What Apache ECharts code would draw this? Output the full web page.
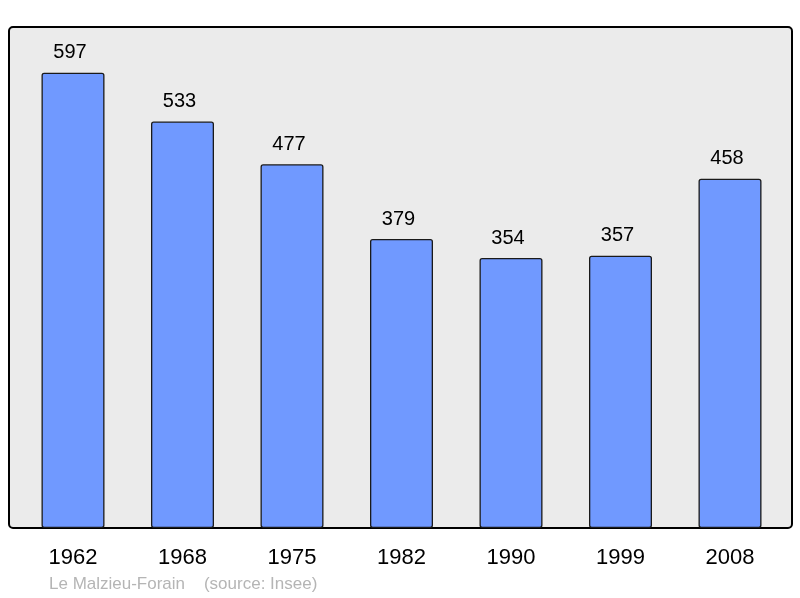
<!DOCTYPE html>
<html><head><meta charset="utf-8">
<script src="https://cdn.jsdelivr.net/npm/echarts@6/dist/echarts.min.js"></script>
<style>html,body{margin:0;padding:0;background:#fff}#c{width:800px;height:598px}</style>
</head><body><div id="c"></div>
<script>
const years = ['1962','1968','1975','1982','1990','1999','2008'];
const population = [597,533,477,379,354,357,458];
const footerText = 'Le Malzieu-Forain    (source: Insee)';

const chart = echarts.init(document.getElementById('c'), null, {renderer:'canvas'});
chart.setOption({
  animation:false,
  backgroundColor:'#ffffff',
  grid:{left:18.25, width:766.5, top:27, bottom:70, containLabel:false},
  graphic:[
    {type:'rect', z:-10, shape:{x:9,y:27,width:783,height:501,r:4},
     style:{fill:'#ebebeb', stroke:'#000', lineWidth:2}},
    {type:'text', left:49, top:576, style:{text:footerText, fill:'#b5b5b5', font:'17px "Liberation Sans", Arial, sans-serif'}}
  ],
  xAxis:{type:'category', data:years,
    axisLine:{show:false}, axisTick:{show:false},
    axisLabel:{color:'#000', fontSize:22, fontFamily:'"Liberation Sans", Arial, sans-serif', margin:19}},
  yAxis:{type:'value', min:0, max:657, show:false, splitLine:{show:false}},
  series:[{type:'bar', data:population, barWidth:63,
    itemStyle:{color:'#7099ff', borderColor:'#1a1a1a', borderWidth:1.3, borderRadius:2},
    label:{show:true, position:'top', distance:10, offset:[-3,0], color:'#000', fontSize:20, fontFamily:'"Liberation Sans", Arial, sans-serif'}}]
});
</script></body></html>
